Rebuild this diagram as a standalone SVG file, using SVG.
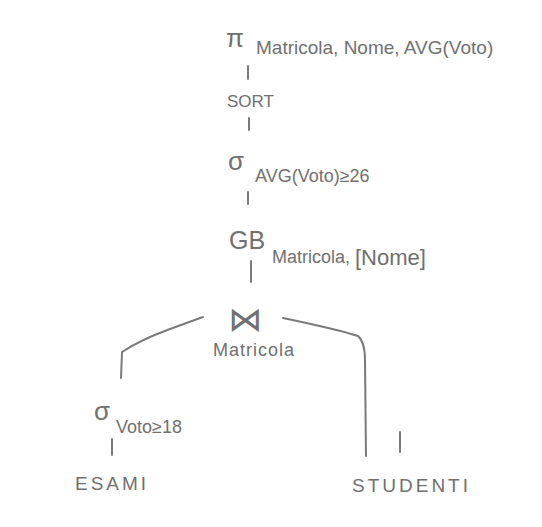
<svg xmlns="http://www.w3.org/2000/svg" width="542" height="527" viewBox="0 0 542 527">
<style>
text{font-family:"Liberation Sans","DejaVu Sans",sans-serif;fill:#707070;}
.op{font-size:26px;}
.sub{font-size:18px;}
.rel{font-size:19px;letter-spacing:3px;}
.c{stroke:#7a7a7a;stroke-width:2;fill:none;stroke-linecap:round;}
</style>
<rect width="542" height="527" fill="#ffffff"/>
<g id="connectors">
<line class="c" x1="248" y1="66" x2="248" y2="79"/>
<line class="c" x1="249" y1="118" x2="249" y2="130"/>
<line class="c" x1="248" y1="192" x2="248" y2="204"/>
<line class="c" x1="251" y1="261" x2="251" y2="282"/>
<path class="c" d="M203 317 L170 329 Q140 340 122 352 L121 378"/>
<path class="c" d="M283 318 Q340 330 358 336 Q365 342 365 360 L366 456"/>
<line class="c" x1="112" y1="439" x2="112" y2="455"/>
<line class="c" x1="400" y1="432" x2="400" y2="452"/>
</g>
<g id="projection">
<text class="op" x="226" y="47">π</text>
<text x="256" y="54" style="font-size:19px">Matricola, Nome, AVG(Voto)</text>
</g>
<g id="sort">
<text x="227" y="107" style="font-size:17px">SORT</text>
</g>
<g id="selection-avg">
<text class="op" x="228" y="170">σ</text>
<text class="sub" x="255" y="182">AVG(Voto)≥26</text>
</g>
<g id="groupby">
<text x="229" y="249" style="font-size:25px">GB</text>
<text class="sub" x="272" y="263">Matricola,</text>
<text x="355" y="265" style="font-size:22px">[Nome]</text>
</g>
<g id="join">
<text x="228" y="331" style="font-size:34px">⋈</text>
<text x="213" y="356" style="font-size:18px;letter-spacing:1px">Matricola</text>
</g>
<g id="selection-voto">
<text class="op" x="94" y="420">σ</text>
<text class="sub" x="116" y="433">Voto≥18</text>
</g>
<g id="esami">
<text class="rel" x="75" y="490">ESAMI</text>
</g>
<g id="studenti">
<text class="rel" x="352" y="492">STUDENTI</text>
</g>
</svg>
